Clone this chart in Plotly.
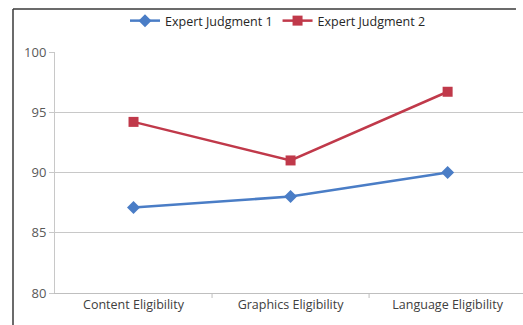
import plotly.graph_objects as go

categories = ["Content Eligibility", "Graphics Eligibility", "Language Eligibility"]
series1_name = "Expert Judgment 1"
series1_values = [87.1, 88.0, 90.0]
series2_name = "Expert Judgment 2"
series2_values = [94.2, 91.0, 96.7]
y_ticks = [80, 85, 90, 95, 100]

W, H = 523, 325
L, R, T, B = 55, 0, 52, 32
pw = W - L - R
ph = H - T - B

FONT = "Open Sans, Liberation Sans, sans-serif"

fig = go.Figure()
fig.add_trace(go.Scatter(
    x=list(range(len(categories))), y=series1_values, name=series1_name,
    mode="lines+markers",
    line=dict(color="#4a7dc6", width=2.5),
    marker=dict(symbol="diamond", size=10, color="#4a7dc6"),
))
fig.add_trace(go.Scatter(
    x=list(range(len(categories))), y=series2_values, name=series2_name,
    mode="lines+markers",
    line=dict(color="#c0394a", width=2.5),
    marker=dict(symbol="square", size=10, color="#c0394a"),
))

fig.update_layout(
    width=W, height=H,
    margin=dict(l=L, r=R, t=T, b=B),
    paper_bgcolor="white", plot_bgcolor="white",
    font=dict(family=FONT, size=12.5, color="#404040"),
    showlegend=True,
    legend=dict(orientation="h", xref="paper", yref="paper",
                x=(278 - L) / pw, xanchor="center",
                y=(ph + T - 21) / ph, yanchor="middle",
                font=dict(family=FONT, size=12.5, color="#262626"),
                bgcolor="rgba(0,0,0,0)", itemwidth=30, tracegroupgap=0),
    xaxis=dict(
        range=[-0.5, 2.48],
        tickmode="array", tickvals=list(range(len(categories))), ticktext=categories,
        showgrid=False, zeroline=False,
        showline=True, linecolor="#bfbfbf", linewidth=1,
        ticks="", tickfont=dict(family=FONT, size=12.5, color="#404040"),
    ),
    yaxis=dict(
        range=[80, 100], tickvals=y_ticks,
        showgrid=True, gridcolor="#c8c8c8", gridwidth=1,
        zeroline=False, showline=True, linecolor="#c8c8c8", linewidth=1,
        ticks="outside", ticklen=5, tickcolor="#c8c8c8",
        tickfont=dict(family=FONT, size=13, color="#595959"),
    ),
)

shapes = []
for b in [0.5, 1.5]:
    shapes.append(dict(type="line", xref="x", yref="paper", x0=b, x1=b, y0=0, y1=-5 / ph,
                       line=dict(color="#bfbfbf", width=1)))
bx = (13 - L) / pw
by_top = (ph + T - 9) / ph
by_bot = -(B + 5) / ph
shapes.append(dict(type="line", xref="paper", yref="paper", x0=bx, x1=bx, y0=by_bot, y1=by_top,
                   line=dict(color="#3a3a3a", width=1.5)))
shapes.append(dict(type="line", xref="paper", yref="paper", x0=bx, x1=0.985, y0=by_top, y1=by_top,
                   line=dict(color="#3a3a3a", width=1.5)))
fig.update_layout(shapes=shapes)

fig.write_html("out.html")
